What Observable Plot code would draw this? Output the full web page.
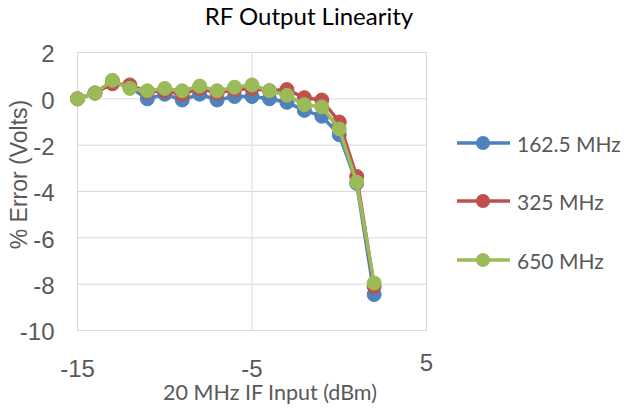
<!DOCTYPE html>
<html><head><meta charset="utf-8">
<script src="https://cdn.jsdelivr.net/npm/d3@7"></script>
<script src="https://cdn.jsdelivr.net/npm/@observablehq/plot@0.6"></script>
<style>
body{margin:0;background:#fff;}
#wrap{position:relative;width:630px;height:409px;overflow:hidden;}
#legend{position:absolute;left:455px;top:0;font-family:Lato,sans-serif;font-size:21px;color:#595959;}
.row{position:absolute;left:0;display:flex;align-items:center;white-space:nowrap;}
.row svg{margin-right:4px;}
</style></head><body>
<div id="wrap"><div id="chart"></div><div id="legend"></div></div>
<script>
const chartTitle = "RF Output Linearity";
const xTitle = "20 MHz IF Input (dBm)";
const yTitle = "% Error (Volts)";
const inputDbm = [-15,-14,-13,-12,-11,-10,-9,-8,-7,-6,-5,-4,-3,-2,-1,0,1,2];
const seriesNames = ["162.5 MHz","325 MHz","650 MHz"];
const err1625 = [0,0.25,0.75,0.5,0.0,0.2,-0.05,0.2,-0.05,0.1,0.1,0.0,-0.15,-0.5,-0.75,-1.55,-3.65,-8.45];
const err325  = [0,0.25,0.65,0.6,0.3,0.35,0.2,0.45,0.25,0.4,0.45,0.35,0.4,0.05,-0.05,-1.0,-3.35,-8.1];
const err650  = [0,0.25,0.8,0.45,0.35,0.45,0.35,0.55,0.35,0.5,0.6,0.35,0.15,-0.25,-0.35,-1.3,-3.6,-7.95];
const seriesColors = ["#4F81BD","#C0504D","#9BBB59"];
const xTicks = [-15,-5,5];
const yTicks = [-10,-8,-6,-4,-2,0,2];

const allValues = [err1625, err325, err650];
const rows = seriesNames.flatMap((s,i)=>inputDbm.map((x,j)=>({series:s, x, y:allValues[i][j]})));

const seriesMarks = seriesNames.flatMap((s,i)=>{
  const d = rows.filter(r=>r.series===s);
  return [
    Plot.line(d,{x:"x",y:"y",stroke:seriesColors[i],strokeWidth:3.5}),
    Plot.dot(d,{x:"x",y:"y",r:7,fill:seriesColors[i],stroke:seriesColors[i],strokeWidth:1})
  ];
});

const gray = "#595959";
const fmt = d => String(d);
const chart = Plot.plot({
  width:630, height:409,
  marginLeft:77, marginRight:204, marginTop:52, marginBottom:79,
  style:{fontFamily:"'Liberation Sans',Arial,sans-serif", background:"#fff", overflow:"visible"},
  x:{domain:[-15,5]},
  y:{domain:[-10,2]},
  marks:[
    Plot.gridY(yTicks,{stroke:"#D9D9D9",strokeOpacity:1,strokeWidth:1}),
    Plot.gridX([-5],{stroke:"#D9D9D9",strokeOpacity:1,strokeWidth:1}),
    Plot.frame({stroke:"#D9D9D9"}),
    Plot.axisY({ticks:yTicks,tickFormat:fmt,tickSize:0,tickPadding:23,fontSize:24,color:gray,label:null,dy:2}),
    Plot.axisX({ticks:xTicks.slice(0,2),tickFormat:fmt,tickSize:0,tickPadding:29,fontSize:24,color:gray,label:null}),
    Plot.axisX({ticks:xTicks.slice(2),tickFormat:fmt,tickSize:0,tickPadding:23,fontSize:24,color:gray,label:null}),
    ...seriesMarks,
    Plot.text([chartTitle],{text:d=>d,frameAnchor:"top",textAnchor:"middle",dx:57,dy:-35,fontSize:24,fill:"#000",fontFamily:"Lato,sans-serif",lineAnchor:"middle"}),
    Plot.text([xTitle],{text:d=>d,frameAnchor:"bottom",textAnchor:"middle",dx:18,dy:63,fontSize:21.5,fill:gray,fontFamily:"Lato,sans-serif",lineAnchor:"middle"}),
    Plot.text([yTitle],{text:d=>d,frameAnchor:"left",textAnchor:"middle",rotate:-90,dx:-58,dy:-17,fontSize:23,fill:gray,lineAnchor:"middle"})
  ]
});
document.getElementById("chart").appendChild(chart);

const legendY = [143,201,260];
const legend = document.getElementById("legend");
seriesNames.forEach((s,i)=>{
  const row = document.createElement("div");
  row.className = "row";
  row.style.top = (legendY[i]-14)+"px";
  row.style.height = "28px";
  row.innerHTML = `<svg width="58" height="28"><line x1="2" x2="55" y1="14" y2="14" stroke="${seriesColors[i]}" stroke-width="3.5"/><circle cx="28" cy="14" r="7" fill="${seriesColors[i]}"/></svg><span>${s}</span>`;
  legend.appendChild(row);
});
</script>
</body></html>
